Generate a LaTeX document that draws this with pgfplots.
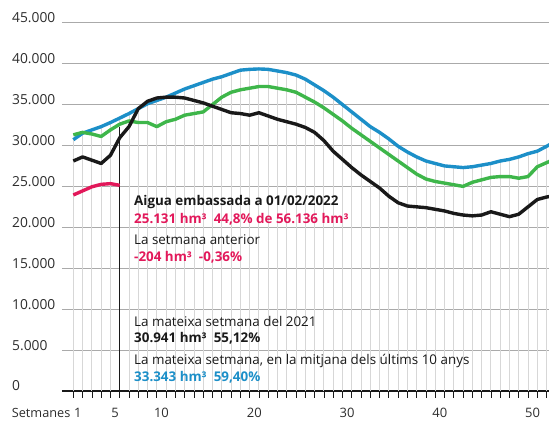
\documentclass[border=0pt]{standalone}
\usepackage{pgfplots}
\pgfplotsset{compat=1.18}
\usepackage{pgfplotstable}
\usepackage{fontspec}
\setmainfont{Open Sans}
\definecolor{cblue}{RGB}{28,143,200}
\definecolor{cgreen}{RGB}{62,182,74}
\definecolor{cpink}{RGB}{226,24,90}
\definecolor{cblack}{RGB}{25,25,25}
\definecolor{ctxt}{RGB}{45,45,45}
\definecolor{gridh}{RGB}{170,170,170}
\definecolor{gridv}{RGB}{215,215,215}

\pgfplotstableread{
g  blue  green black
0  30700 31300 28100
1  31500 31600 28600
2  31900 31400 28200
3  32300 31100 27800
4  32800 31900 28800
5  33343 32600 30941
6  33900 33000 32300
7  34500 32800 34500
8  35100 32800 35400
9  35500 32300 35800
10 35900 32900 35900
11 36400 33200 35900
12 36900 33700 35800
13 37300 33900 35500
14 37700 34100 35200
15 38100 35000 34800
16 38400 35900 34400
17 38800 36500 34000
18 39200 36800 33900
19 39300 37000 33700
20 39350 37200 34000
21 39300 37200 33600
22 39100 37000 33200
23 38900 36800 32900
24 38600 36500 32600
25 38100 35900 32200
26 37400 35300 31600
27 36700 34600 30600
28 35900 33800 29300
29 35000 33000 28300
30 34100 32100 27300
31 33200 31300 26400
32 32300 30500 25600
33 31600 29700 24800
34 30800 28900 23800
35 29900 28100 23000
36 29200 27300 22600
37 28600 26500 22500
38 28100 25900 22400
39 27800 25600 22200
40 27500 25400 22000
41 27400 25200 21700
42 27300 25000 21500
43 27400 25500 21400
44 27600 25800 21500
45 27800 26100 21900
46 28100 26200 21600
47 28300 26200 21300
48 28600 26000 21600
49 29000 26200 22500
50 29300 27400 23400
51 29900 27900 23700
52 30500 28400 23900
}\data

\pgfplotstableread{
g  pink
0  23950
1  24450
2  24950
3  25250
4  25335
5  25131
}\pink

\begin{document}
\begin{tikzpicture}
\begin{axis}[
  scale only axis, width=487pt, height=368.3pt,
  xmin=-1.22, xmax=51.26, ymin=0, ymax=45000,
  axis x line*=bottom, axis y line*=left,
  y axis line style={draw=none},
  x axis line style={cblack, line width=1.1pt},
  xtick={0,...,51}, xticklabels={},
  x tick style={cblack, line width=0.7pt},
  tick align=outside, major tick length=7pt,
  extra x ticks={0.5,4.5,9.5,19.5,29.5,39.5,49.5},
  extra x tick labels={1,5,10,20,30,40,50},
  extra x tick style={major tick length=0pt, grid=none,
     xticklabel style={anchor=base, yshift=-27pt, font=\fontsize{13}{15}\selectfont}},
  scaled y ticks=false,
  ytick={0,5000,...,45000},
  yticklabels={0,5.000,10.000,15.000,20.000,25.000,30.000,35.000,40.000,45.000},
  ytick style={draw=none},
  yticklabel style={anchor=base west, xshift=-43pt, inner sep=0pt, font=\fontsize{13.8}{15}\selectfont},
  ymajorgrids, major grid style={gridh, line width=0.9pt},
  /pgf/number format/assume math mode=true,
  ticklabel style={text=ctxt},
  clip=true,
]
\addplot[ycomb, draw=gridv, line width=0.9pt, mark=none] table[x=g,y=blue]{\data};
\addplot[cblack, line width=1.1pt, mark=none] coordinates {(5,0) (5,32300)};
\addplot[cblue, line width=3.4pt, line join=round, mark=none] table[x=g,y=blue]{\data};
\addplot[cgreen, line width=3.4pt, line join=round, mark=none] table[x=g,y=green]{\data};
\addplot[cblack, line width=3.4pt, line join=round, mark=none] table[x=g,y=black]{\data};
\addplot[cpink, line width=3.4pt, line join=round, mark=none] table[x=g,y=pink]{\pink};

\begin{scope}[every node/.style={anchor=base west, inner sep=0pt, font=\fontsize{13.4}{15}\selectfont}]
\node[text=cblack] at (axis cs:6.54,22640) {\textbf{Aigua embassada a 01/02/2022}};
\node[text=cpink] at (axis cs:6.54,20490) {\textbf{25.131 hm³\ \ 44,8\% de 56.136 hm³}};
\node[text=cblack] at (axis cs:6.54,17840) {La setmana anterior};
\node[text=cpink] at (axis cs:6.54,15800) {\textbf{-204 hm³\ \ -0,36\%}};
\node[text=cblack] at (axis cs:6.54,7940) {La mateixa setmana del 2021};
\node[text=cblack] at (axis cs:6.54,5900) {\textbf{30.941 hm³\ \ 55,12\%}};
\node[text=cblack] at (axis cs:6.54,3180) {La mateixa setmana, en la mitjana dels últims 10 anys};
\node[text=cblue] at (axis cs:6.54,1140) {\textbf{33.343 hm³\ \ 59,40\%}};
\end{scope}
\end{axis}
\node[anchor=base west, inner sep=0pt, text=ctxt, font=\fontsize{12.7}{15}\selectfont] at ([xshift=-50.3pt, yshift=-27pt]current axis.south west) {Setmanes};
\pgfresetboundingbox
\path (current axis.south west) ++(-62pt,-32pt) rectangle ++(549pt,423pt);
\end{tikzpicture}
\end{document}
